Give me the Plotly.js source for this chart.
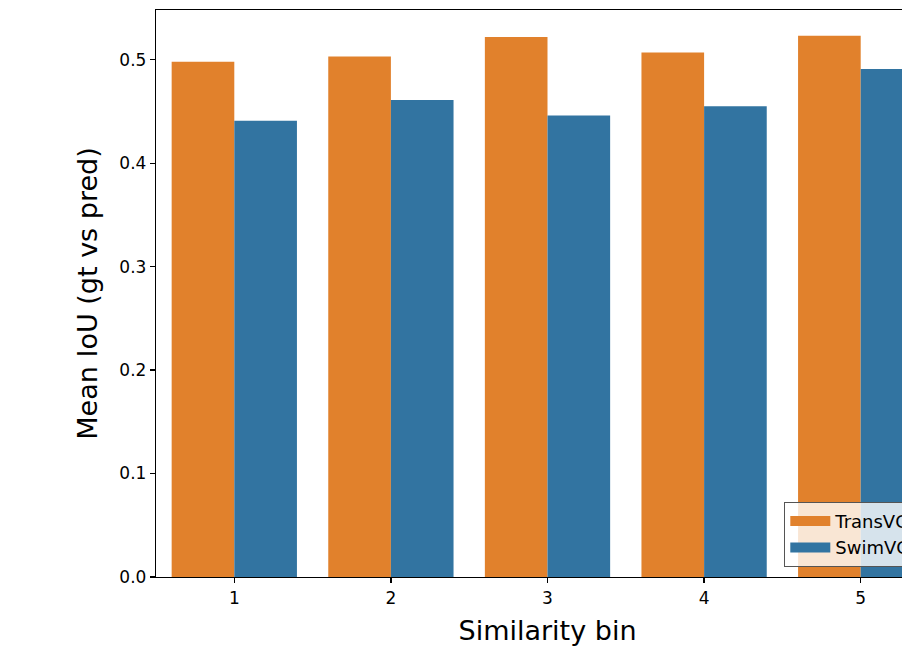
<!DOCTYPE html>
<html>
<head>
<meta charset="utf-8">
<script src="https://cdn.plot.ly/plotly-3.0.1.min.js"></script>
<style>
html, body { margin: 0; padding: 0; overflow: hidden; background: #fff; }
#chart { width: 1020px; height: 657px; }
</style>
</head>
<body>
<div id="chart"></div>
<script>
const bins = ["1", "2", "3", "4", "5"];
const transvg = [0.498, 0.503, 0.522, 0.507, 0.523];
const swimvg = [0.441, 0.461, 0.446, 0.455, 0.491];
const seriesNames = ["TransVG", "SwimVG"];
const seriesColors = ["#e1812c", "#3274a1"];
const yTicks = [0.0, 0.1, 0.2, 0.3, 0.4, 0.5];

const font = "DejaVu Sans, sans-serif";
const traces = [
  { type: "bar", x: bins, y: transvg, name: seriesNames[0], marker: { color: seriesColors[0] }, showlegend: false },
  { type: "bar", x: bins, y: swimvg, name: seriesNames[1], marker: { color: seriesColors[1] }, showlegend: false },
  // legend entries drawn as wide patches (matplotlib style)
  { type: "scatter", mode: "lines", x: [null], y: [null], name: seriesNames[0], line: { color: seriesColors[0], width: 14 } },
  { type: "scatter", mode: "lines", x: [null], y: [null], name: seriesNames[1], line: { color: seriesColors[1], width: 14 } }
];

const layout = {
  width: 1020, height: 657,
  margin: { l: 156, r: 81, t: 10, b: 80 },
  paper_bgcolor: "#fff", plot_bgcolor: "#fff",
  barmode: "group", bargap: 0.2, bargroupgap: 0,
  font: { family: font, color: "#000", size: 17 },
  showlegend: true,
  legend: {
    x: 0.971, y: 0.018, xanchor: "right", yanchor: "bottom",
    bgcolor: "rgba(255,255,255,0.8)", bordercolor: "#555", borderwidth: 1,
    font: { family: font, size: 18 }, tracegroupgap: 0, itemwidth: 40
  },
  xaxis: {
    type: "category", range: [-0.5, 4.5],
    showline: true, linecolor: "#000", linewidth: 1.2, mirror: true,
    ticks: "outside", ticklen: 5, tickwidth: 1.2, tickcolor: "#000",
    showgrid: false, zeroline: false,
    tickfont: { family: font, size: 17 },
    title: { text: "Similarity bin", font: { family: font, size: 27 }, standoff: 14 },
    automargin: false
  },
  yaxis: {
    range: [0, 0.548], tickvals: yTicks, ticktext: yTicks.map(v => v.toFixed(1)),
    showline: true, linecolor: "#000", linewidth: 1.2, mirror: true,
    ticks: "outside", ticklen: 5, tickwidth: 1.2, tickcolor: "#000",
    showgrid: false, zeroline: false,
    tickfont: { family: font, size: 17 },
    title: { text: "Mean IoU (gt vs pred)", font: { family: font, size: 27 }, standoff: 14 },
    automargin: false
  }
};

Plotly.newPlot("chart", traces, layout, { displayModeBar: false, staticPlot: true });
</script>
</body>
</html>
